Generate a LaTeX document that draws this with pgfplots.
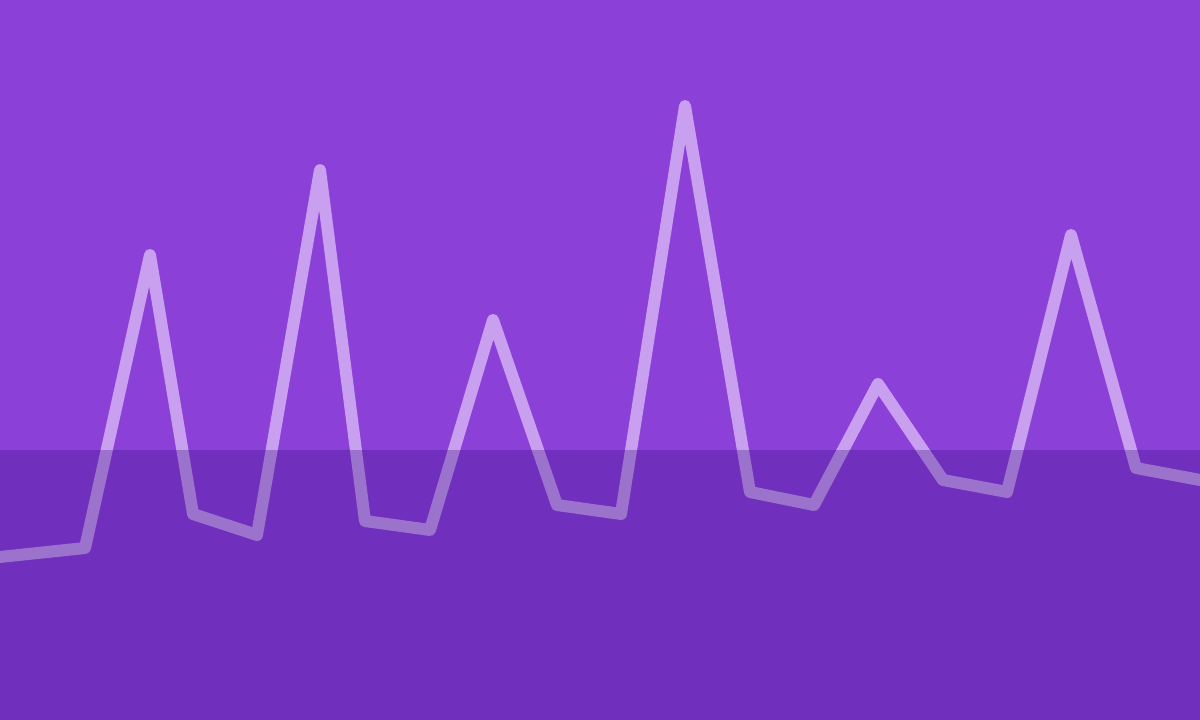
\documentclass[border=0pt]{standalone}
\usepackage{pgfplots}
\pgfplotsset{compat=1.18}
\definecolor{bg}{RGB}{139,64,216}
\definecolor{band}{RGB}{52,11,126}
\definecolor{ln}{RGB}{201,160,239}
\begin{document}
\begin{tikzpicture}
\begin{axis}[
  width=12cm, height=7.2cm, scale only axis,
  xmin=0, xmax=1200, ymin=0, ymax=720, y dir=reverse,
  axis lines=none, ticks=none, clip=true,
]
\addplot[fill=bg, draw=none] coordinates {(0,0)(1200,0)(1200,720)(0,720)} -- cycle;
\addplot[color=ln, line width=1.2mm, line join=round, line cap=round, mark=none] coordinates {
(0,557)(85,548)(150,255)(193,514)(257,535)(320,170)(365,521)(430,530)(493,320)(557,505)(621,514)(685,106)(750,492)(814,505)(878,384)(943,480)(1007,492)(1071,235)(1136,468)(1200,480)
};
\addplot[fill=band, fill opacity=0.3, draw=none] coordinates {(0,450)(1200,450)(1200,720)(0,720)} -- cycle;
\end{axis}
\end{tikzpicture}
\end{document}
